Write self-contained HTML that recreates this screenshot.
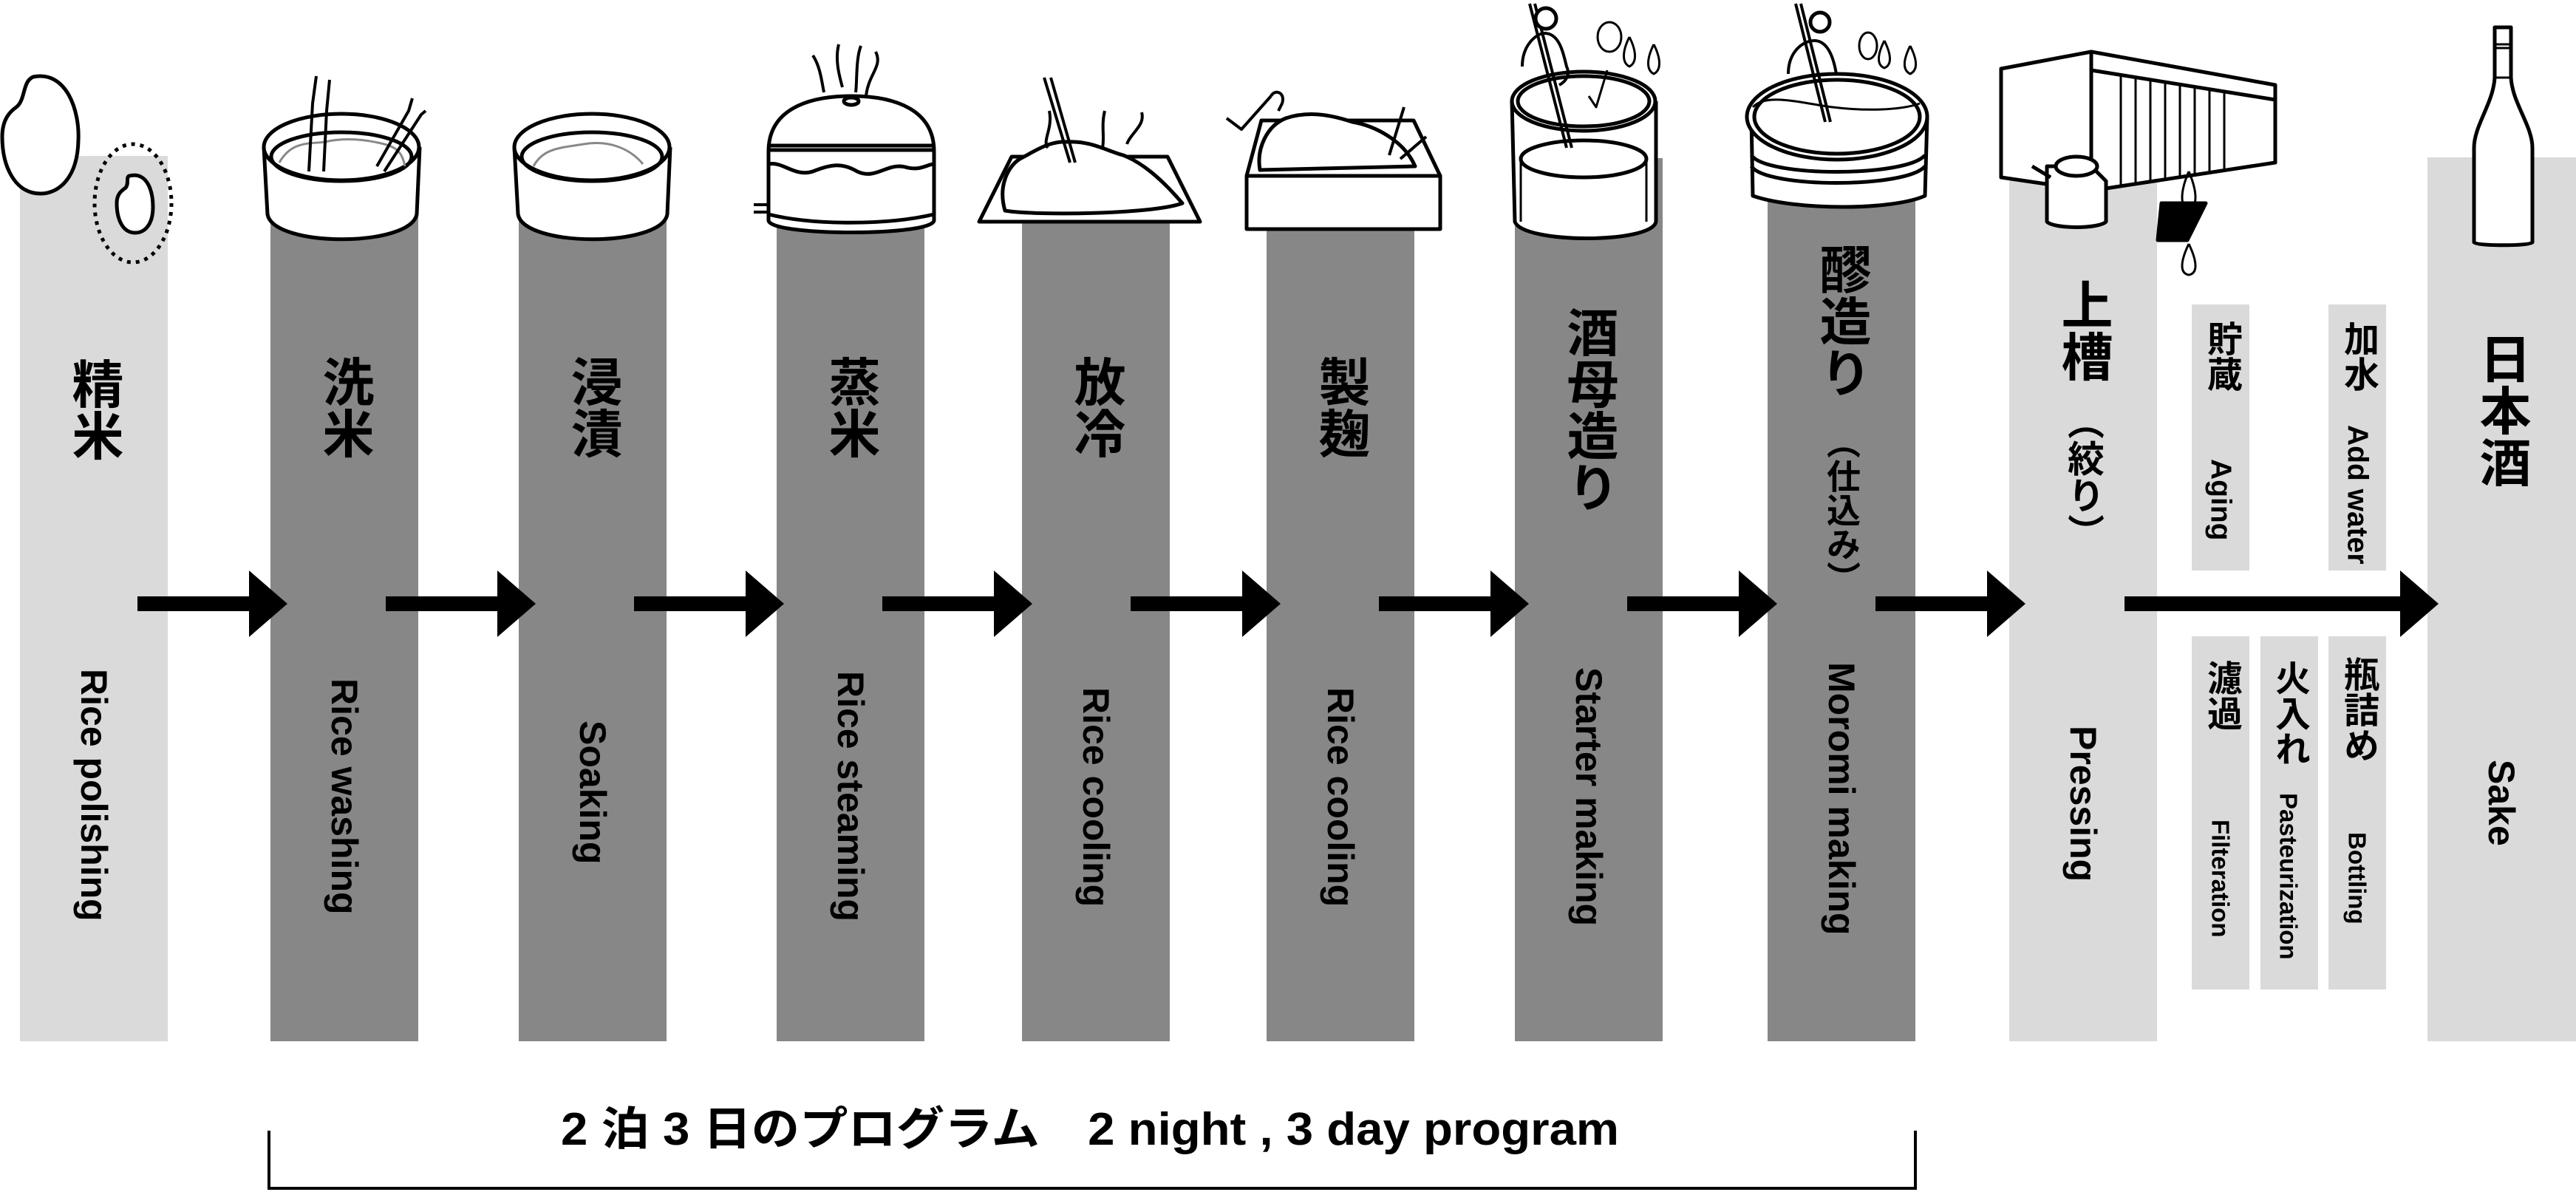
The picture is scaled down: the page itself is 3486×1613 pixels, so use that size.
<!DOCTYPE html>
<html><head><meta charset="utf-8"><style>
html,body{margin:0;padding:0;background:#fff}
#c{position:relative;width:3486px;height:1613px;overflow:hidden;background:#fff}
.v{position:absolute;writing-mode:vertical-rl;text-orientation:mixed;font-family:"Liberation Sans","Noto Sans CJK JP",sans-serif;font-weight:700;color:#000;line-height:1;white-space:nowrap;transform:translateX(-50%)}
.j{font-size:70px}
.e{font-size:50px}
svg{position:absolute;left:0;top:0}
</style></head><body><div id="c">
<svg width="3486" height="1613" viewBox="0 0 3486 1613">
<g fill="#dadada">
<rect x="27" y="211" width="200" height="1198"/>
<rect x="2719" y="211" width="200" height="1198"/>
<rect x="3285" y="213" width="201" height="1196"/>
<rect x="2966" y="412" width="78" height="360"/>
<rect x="3151" y="412" width="78" height="360"/>
<rect x="2966" y="861" width="78" height="478"/>
<rect x="3059" y="861" width="78" height="478"/>
<rect x="3151" y="861" width="78" height="478"/>
</g>
<g fill="#878787">
<rect x="366" y="290" width="200" height="1119"/>
<rect x="702" y="290" width="200" height="1119"/>
<rect x="1051" y="290" width="200" height="1119"/>
<rect x="1383" y="290" width="200" height="1119"/>
<rect x="1714" y="290" width="200" height="1119"/>
<rect x="2050" y="214" width="200" height="1195"/>
<rect x="2392" y="262" width="200" height="1147"/>
</g>
<g fill="#000">
<rect x="186" y="807" width="151" height="20"/><polygon points="337,772 389,817 337,862"/>
<rect x="522" y="807" width="151" height="20"/><polygon points="673,772 725,817 673,862"/>
<rect x="858" y="807" width="151" height="20"/><polygon points="1009,772 1061,817 1009,862"/>
<rect x="1194" y="807" width="151" height="20"/><polygon points="1345,772 1397,817 1345,862"/>
<rect x="1530" y="807" width="151" height="20"/><polygon points="1681,772 1733,817 1681,862"/>
<rect x="1866" y="807" width="151" height="20"/><polygon points="2017,772 2069,817 2017,862"/>
<rect x="2202" y="807" width="151" height="20"/><polygon points="2353,772 2405,817 2353,862"/>
<rect x="2538" y="807" width="151" height="20"/><polygon points="2689,772 2741,817 2689,862"/>
<rect x="2875" y="807" width="373" height="20"/><polygon points="3248,772 3300,817 3248,862"/>
</g>
<path d="M364,1530 V1608 H2592 V1530" fill="none" stroke="#000" stroke-width="4"/>
<text x="759" y="1549" textLength="1432" lengthAdjust="spacingAndGlyphs" font-family="Liberation Sans,Noto Sans CJK JP,sans-serif" font-weight="700" font-size="62">2 泊 3 日のプログラム　2 night , 3 day program</text>
<g fill="#fff" stroke="#000" stroke-width="5" stroke-linejoin="round">
<path d="M45,104 C90,95 108,150 106,190 C105,240 80,262 55,262 C20,262 3,225 3,185 C3,160 15,150 22,145 C35,135 30,110 45,104 Z"/>
<ellipse cx="180" cy="275" rx="52" ry="80" fill="none" stroke-dasharray="5,7"/>
<path d="M175,238 C200,232 207,260 207,280 C207,305 195,315 183,315 C165,315 158,295 158,275 C158,262 165,258 170,254 C175,248 170,240 175,238 Z"/>
<path d="M357,199 L362,290 C370,335 555,335 564,290 L568,199"/>
<ellipse cx="462" cy="199" rx="105" ry="45"/>
<ellipse cx="462" cy="212" rx="95" ry="33" fill="none"/>
<path d="M378,220 C395,190 420,195 440,192 C470,185 500,190 520,195 C540,200 545,210 548,225" fill="none" stroke="#888" stroke-width="3"/>
<path d="M418,232 L423,140 L428,103 M438,232 L442,150 L446,108 M510,225 L553,150 L558,133 M520,232 L570,155 L576,150" fill="none" stroke-width="4"/>
<path d="M696,199 L701,290 C709,335 895,335 903,290 L907,199"/>
<ellipse cx="801" cy="199" rx="105" ry="45"/>
<ellipse cx="801" cy="212" rx="95" ry="33" fill="none"/>
<path d="M722,225 C735,200 760,200 790,195 C820,190 850,198 870,222" fill="none" stroke="#888" stroke-width="3"/>
<path d="M1040,205 C1040,150 1090,130 1152,130 C1214,130 1264,150 1264,205 L1264,298 C1264,320 1040,320 1040,298 Z"/>
<path d="M1040,197 H1264 M1040,203 H1264 M1040,290 C1100,305 1200,305 1264,290" fill="none"/>
<path d="M1040,222 C1060,218 1075,240 1100,232 C1125,222 1140,220 1160,232 C1185,244 1200,220 1225,226 C1245,232 1255,222 1264,222" fill="none"/>
<ellipse cx="1152" cy="137" rx="10" ry="5"/>
<path d="M1020,277 H1040 M1020,287 H1040" fill="none" stroke-width="4"/>
<path d="M1100,75 C1110,90 1112,110 1115,125 M1135,60 C1130,80 1135,100 1140,118 M1165,62 C1158,80 1160,110 1158,125 M1185,70 C1195,90 1175,100 1172,130" fill="none" stroke-width="4"/>
<polygon points="1369,212 1580,212 1624,300 1325,300"/>
<path d="M1360,285 C1350,250 1365,225 1380,215 C1400,205 1420,190 1445,192 C1475,190 1500,205 1520,210 C1545,220 1570,240 1600,275 C1560,290 1400,292 1360,285 Z"/>
<path d="M1413,105 L1448,220 M1422,105 L1455,220 M1420,150 C1425,175 1410,190 1418,200 M1495,150 C1490,170 1495,185 1492,200 M1545,152 C1550,170 1530,180 1525,195" fill="none" stroke-width="4"/>
<path d="M1707,163 H1913 L1949,238 H1687 Z"/>
<path d="M1705,230 C1700,200 1715,170 1740,160 C1770,150 1800,155 1830,165 C1860,170 1900,190 1915,225 Z"/>
<rect x="1687" y="238" width="262" height="72"/>
<path d="M1660,160 L1680,175 L1720,130 M1720,130 C1725,120 1740,125 1735,140 L1730,150 M1900,145 L1880,210 M1930,185 L1895,215" fill="none" stroke-width="4"/>
<path d="M2046,137 L2050,300 C2060,330 2236,330 2241,300 L2241,137"/>
<ellipse cx="2143" cy="137" rx="97" ry="40"/>
<ellipse cx="2143" cy="137" rx="89" ry="34" fill="none"/>
<ellipse cx="2143" cy="215" rx="85" ry="25" fill="none"/>
<path d="M2058,215 L2058,300 M2228,215 L2228,300" fill="none" stroke-width="3"/>
<path d="M2070,5 L2120,200 M2077,5 L2127,200" fill="none" stroke-width="4"/>
<path d="M2060,90 C2060,60 2080,45 2090,45 C2110,45 2115,70 2120,90 C2125,100 2120,110 2110,115" fill="none" stroke-width="4"/>
<circle cx="2092" cy="25" r="14"/>
<ellipse cx="2178" cy="50" rx="16" ry="20" fill="none" stroke-width="3"/>
<path d="M2205,50 C2195,70 2195,85 2205,90 C2215,85 2215,70 2205,50 M2238,60 C2228,80 2228,95 2238,100 C2248,95 2248,80 2238,60 M2175,95 L2160,145 L2150,130" fill="none" stroke-width="3"/>
<path d="M2370,158 L2372,265 C2430,285 2560,285 2605,265 L2608,158"/>
<ellipse cx="2486" cy="158" rx="122" ry="58"/>
<ellipse cx="2486" cy="158" rx="112" ry="50" fill="none"/>
<path d="M2370,210 C2390,240 2580,240 2605,210 M2370,225 C2390,255 2580,255 2605,225" fill="none"/>
<path d="M2372,145 C2390,125 2440,140 2480,145 C2520,150 2570,150 2598,140" fill="none" stroke-width="3"/>
<path d="M2430,5 L2470,165 M2437,5 L2477,165" fill="none" stroke-width="4"/>
<path d="M2420,100 C2420,70 2440,55 2455,55 C2470,55 2480,70 2485,100" fill="none" stroke-width="4"/>
<circle cx="2463" cy="30" r="13"/>
<path d="M2550,55 C2540,75 2540,88 2550,92 C2560,88 2560,75 2550,55 M2585,62 C2575,82 2575,95 2585,100 C2595,95 2595,82 2585,62" fill="none" stroke-width="3"/>
<ellipse cx="2528" cy="62" rx="12" ry="18" fill="none" stroke-width="3"/>
<polygon points="2708,93 2830,70 3079,115 3079,220 2830,258 2708,240"/>
<path d="M2830,70 V258 M2830,95 L3079,135" fill="none"/>
<path d="M2870,102 V250 M2890,105 V247 M2910,108 V244 M2930,111 V241 M2950,114 V238 M2970,117 V235 M2990,120 V232 M3010,123 V229" fill="none" stroke-width="3"/>
<path d="M2770,225 L2770,300 C2780,310 2840,310 2850,300 L2850,245 L2830,225 Z"/>
<ellipse cx="2810" cy="225" rx="28" ry="13"/>
<path d="M2750,225 L2775,240" fill="none"/>
<path d="M2925,275 L2985,275 L2960,325 L2920,325 Z" fill="#000"/>
<path d="M2962,232 C2950,260 2950,280 2962,285 C2974,280 2974,260 2962,232 M2962,330 C2950,355 2950,370 2962,372 C2974,370 2974,355 2962,330" fill="none" stroke-width="3"/>
<path d="M3376,37 H3398 V105 C3400,140 3427,170 3427,200 V328 C3427,333 3348,333 3348,328 V200 C3348,170 3374,140 3376,105 Z"/>
<path d="M3376,60 H3398 M3376,65 H3398 M3375,105 H3400" fill="none" stroke-width="3"/>
</g>
</svg>
<div class="v j" style="left:127px;top:484px">精米</div>
<div class="v j" style="left:466px;top:481px">洗米</div>
<div class="v j" style="left:802px;top:481px">浸漬</div>
<div class="v j" style="left:1151px;top:481px">蒸米</div>
<div class="v j" style="left:1483px;top:481px">放冷</div>
<div class="v j" style="left:1814px;top:481px">製麹</div>
<div class="v j" style="left:2150px;top:414px">酒母造り</div>
<div class="v j" style="left:2492px;top:329px">醪造り</div>
<div class="v" style="left:2492px;top:575px;font-size:46px">（仕込み）</div>
<div class="v j" style="left:2819px;top:377px">上槽</div>
<div class="v" style="left:2819px;top:545px;font-size:50px">（絞り）</div>
<div class="v j" style="left:3385px;top:450px">日本酒</div>
<div class="v" style="left:3005px;top:434px;font-size:48px">貯蔵</div>
<div class="v" style="left:3190px;top:434px;font-size:48px">加水</div>
<div class="v" style="left:3005px;top:893px;font-size:48px">濾過</div>
<div class="v" style="left:3097px;top:893px;font-size:48px">火入れ</div>
<div class="v" style="left:3190px;top:888px;font-size:48px">瓶詰め</div>
<div class="v e" style="left:127px;top:905px">Rice polishing</div>
<div class="v e" style="left:466px;top:918px">Rice washing</div>
<div class="v e" style="left:802px;top:975px">Soaking</div>
<div class="v e" style="left:1151px;top:908px">Rice steaming</div>
<div class="v e" style="left:1483px;top:930px">Rice cooling</div>
<div class="v e" style="left:1814px;top:930px">Rice cooling</div>
<div class="v e" style="left:2150px;top:903px">Starter making</div>
<div class="v e" style="left:2492px;top:896px">Moromi making</div>
<div class="v e" style="left:2819px;top:982px">Pressing</div>
<div class="v e" style="left:3385px;top:1028px">Sake</div>
<div class="v" style="left:3005px;top:621px;font-size:39px">Aging</div>
<div class="v" style="left:3190px;top:575px;font-size:39px">Add water</div>
<div class="v" style="left:3005px;top:1109px;font-size:33px">Filteration</div>
<div class="v" style="left:3097px;top:1073px;font-size:33px">Pasteurization</div>
<div class="v" style="left:3190px;top:1126px;font-size:33px">Bottling</div>
</div></body></html>
